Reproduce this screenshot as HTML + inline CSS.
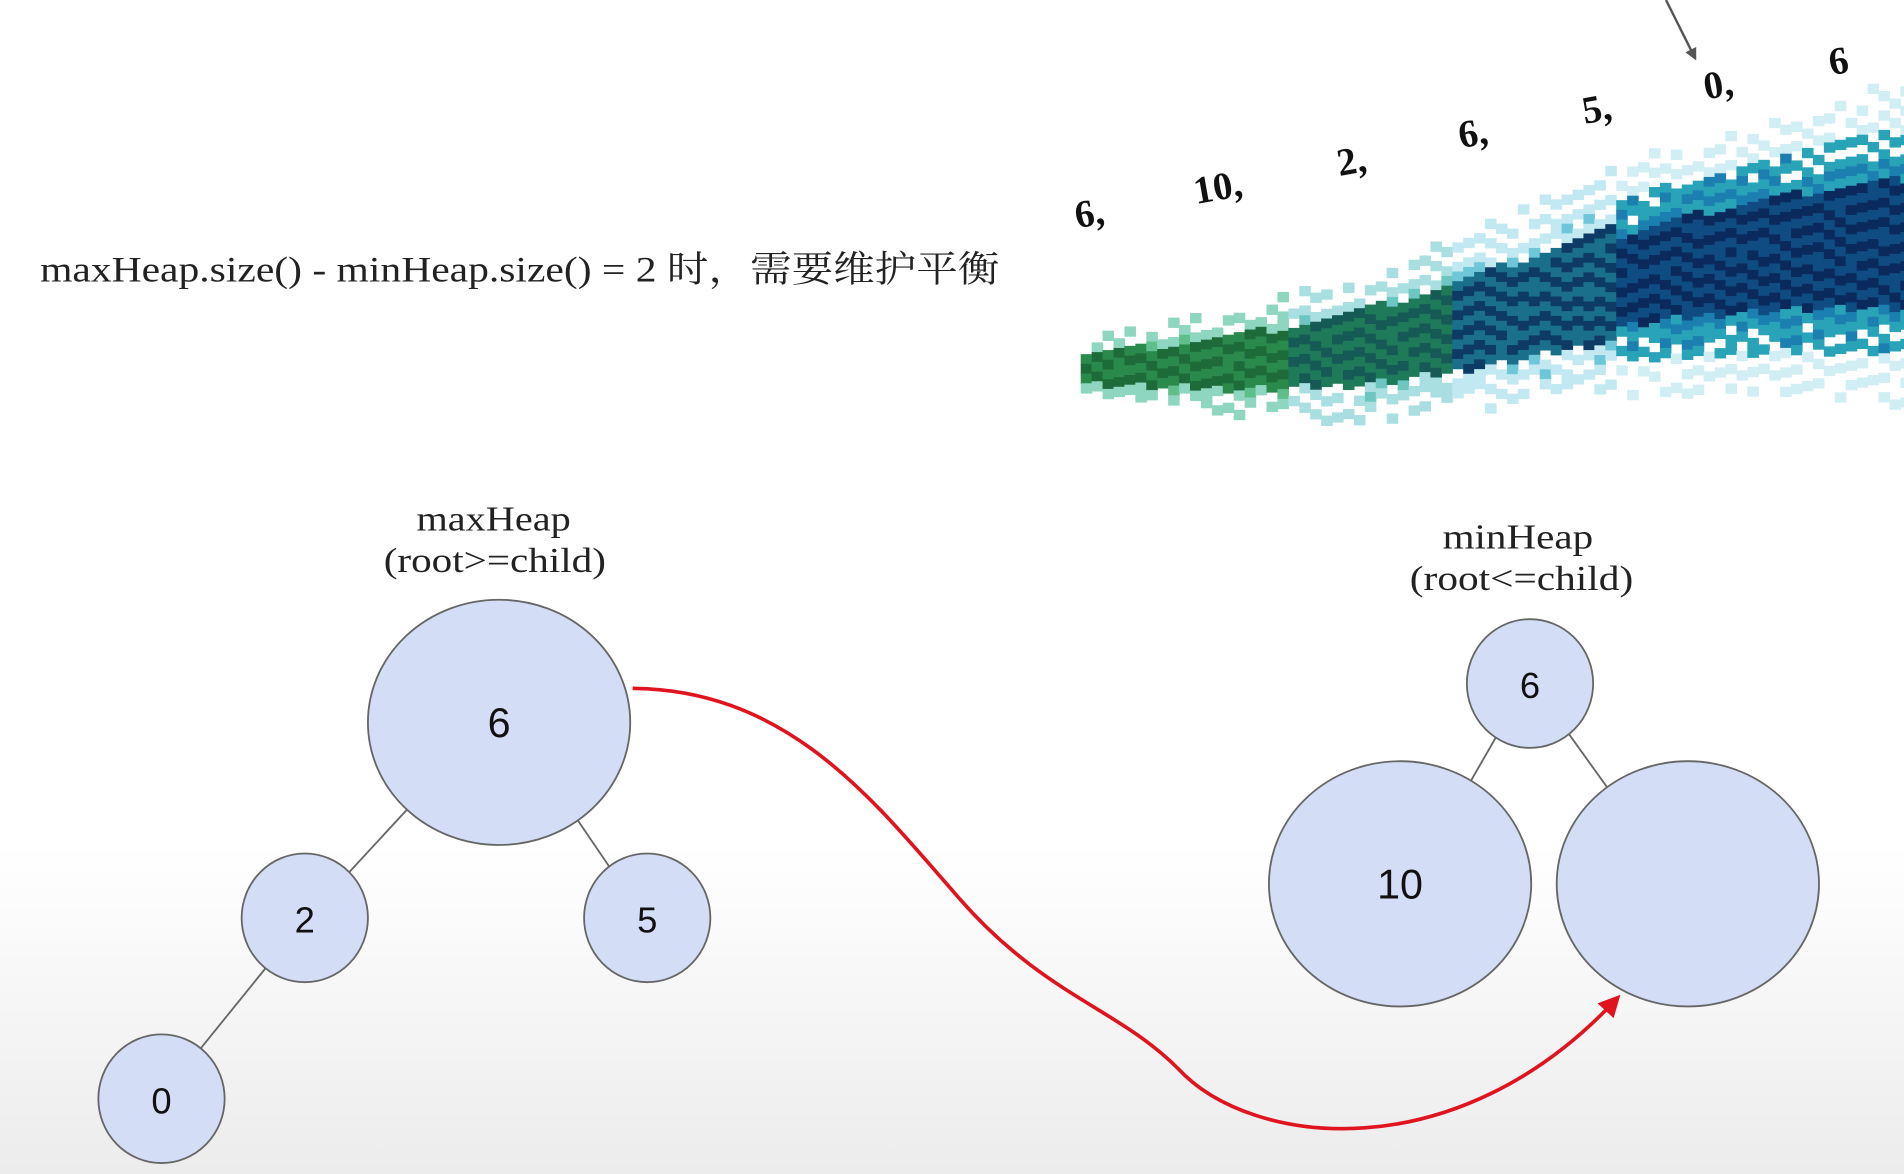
<!DOCTYPE html>
<html><head><meta charset="utf-8">
<style>
html,body{margin:0;padding:0;width:1904px;height:1174px;overflow:hidden;background:#fff;}
svg{display:block}
</style></head>
<body>
<svg id="scene" width="1904" height="1174" viewBox="0 0 1568 967" preserveAspectRatio="none" xmlns="http://www.w3.org/2000/svg">
<defs>
<linearGradient id="bg" x1="0" y1="0" x2="0" y2="1">
<stop offset="0.72" stop-color="#ffffff"/><stop offset="1" stop-color="#ececec"/>
</linearGradient>
<marker id="ah" viewBox="0 0 10 10" refX="8" refY="5" markerWidth="6" markerHeight="6" orient="auto">
<path d="M0,0 L10,5 L0,10 z" fill="#e0141e"/></marker>
<marker id="ag" viewBox="0 0 10 10" refX="8" refY="5" markerWidth="5" markerHeight="5" orient="auto">
<path d="M0,0 L10,5 L0,10 z" fill="#555"/></marker>
</defs>
<rect x="0" y="0" width="1568" height="967" fill="url(#bg)"/>
<g id="wave"></g>
<text x="33" y="232" textLength="790" lengthAdjust="spacingAndGlyphs" font-family="Liberation Serif, 'Noto Serif CJK SC', serif" font-size="30" fill="#222">maxHeap.size() - minHeap.size()  = 2 时，需要维护平衡</text>
<g id="stream"></g>
<line x1="1372" y1="0" x2="1396" y2="48" stroke="#555" stroke-width="2" marker-end="url(#ag)"/>
<g id="lines"></g>
<g id="nodes"></g>
<text x="343" y="437" textLength="127" lengthAdjust="spacingAndGlyphs" font-family="Liberation Serif, serif" font-size="29" fill="#222">maxHeap</text>
<text x="316" y="471" textLength="183" lengthAdjust="spacingAndGlyphs" font-family="Liberation Serif, serif" font-size="29" fill="#222">(root&gt;=child)</text>
<text x="1188" y="452" textLength="124" lengthAdjust="spacingAndGlyphs" font-family="Liberation Serif, serif" font-size="29" fill="#222">minHeap</text>
<text x="1161" y="486" textLength="184" lengthAdjust="spacingAndGlyphs" font-family="Liberation Serif, serif" font-size="29" fill="#222">(root&lt;=child)</text>
<path d="M521,567 C650,568 720,660 790,740 C860,820 920,830 970,880 C1030,945 1200,965 1332,822" fill="none" stroke="#e0141e" stroke-width="3" marker-end="url(#ah)"/>
</svg>
<script>
const NS="http://www.w3.org/2000/svg";
const streamValues=["6,","10,","2,","6,","5,","0,","6"];
const nodeLabels=["6","2","5","0","6","10",""];
const nodeCx=[411,251,533,133,1260,1153,1390];
const nodeCy=[595,756,756,905,563,728,728];
const nodeRx=[108,52,52,52,52,108,108];
const nodeRy=[101,53,53,53,53,101,101];
const edges=[[0,1],[0,2],[1,3],[4,5],[4,6]];
const stream=document.getElementById('stream');
const sx=[887,985,1103,1203,1305,1405,1508], sy=[188,168,145,122,102,82,62];
streamValues.forEach((v,i)=>{
  const t=document.createElementNS(NS,'text');
  
  
  t.setAttribute('x',sx[i]);t.setAttribute('y',sy[i]);
  t.setAttribute('transform','rotate(-10 '+sx[i]+' '+sy[i]+')');
  t.setAttribute('font-family','Liberation Serif, serif');t.setAttribute('font-weight','bold');
  t.setAttribute('font-size','32');t.setAttribute('fill','#111');
  t.textContent=v;stream.appendChild(t);
});
const lines=document.getElementById('lines');
edges.forEach(([a,b])=>{
  const dx=nodeCx[b]-nodeCx[a],dy=nodeCy[b]-nodeCy[a],d=Math.hypot(dx,dy);
  const l=document.createElementNS(NS,'line');
  
  
  l.setAttribute('x1',nodeCx[a]+dx/d*nodeRx[a]*0.95);l.setAttribute('y1',nodeCy[a]+dy/d*nodeRy[a]*0.95);
  l.setAttribute('x2',nodeCx[b]-dx/d*nodeRx[b]*0.95);l.setAttribute('y2',nodeCy[b]-dy/d*nodeRy[b]*0.95);
  l.setAttribute('stroke','#666');l.setAttribute('stroke-width','1.5');lines.appendChild(l);
});
const nodes=document.getElementById('nodes');
nodeLabels.forEach((v,i)=>{
  const e=document.createElementNS(NS,'ellipse');
  
  
  e.setAttribute('cx',nodeCx[i]);e.setAttribute('cy',nodeCy[i]);
  e.setAttribute('rx',nodeRx[i]);e.setAttribute('ry',nodeRy[i]);
  e.setAttribute('fill','#d3def6');e.setAttribute('stroke','#666');e.setAttribute('stroke-width','1.5');
  nodes.appendChild(e);
  const t=document.createElementNS(NS,'text');
  
  
  t.setAttribute('x',nodeCx[i]);t.setAttribute('y',nodeCy[i]+12);
  t.setAttribute('text-anchor','middle');t.setAttribute('font-family','Liberation Sans, sans-serif');
  t.setAttribute('font-size',nodeRx[i]>60?34:30);t.setAttribute('fill','#111');
  t.textContent=v;nodes.appendChild(t);
});
const wave=document.getElementById('wave');
const wavePattern=[0.3,0.7,0.1,0.9,0.5,0.2,0.8,0.4,0.6,0.05,0.95,0.35,0.65,0.15,0.85,0.45,0.55,0.25,0.75];
let k=0;
for(let x=890;x<1568;x+=9){
  const f=(x-890)/678;
  const c=302-110*(1/(1+Math.exp(-(f-0.55)*7)));
  const h=24+f*110;
  for(let y=c-h;y<c+h;y+=8){
    const r=wavePattern[k++%wavePattern.length];
    const dist=Math.abs(y-c)/h;
    if(dist>0.5 && r>1.25-dist) continue;
    let col;
    const core=1-dist;
    if(f<0.25){col=core>0.5?(r>0.5?'#1e6b3a':'#2a8a4c'):(r>0.5?'#5fbf8a':'#8fd6c0');}
    else if(f<0.45){col=core>0.5?(r>0.5?'#155a55':'#1f7a5a'):(r>0.5?'#6ec6c0':'#a9dfe0');}
    else if(f<0.65){col=core>0.5?(r>0.5?'#0d3b66':'#1a6f8a'):(r>0.5?'#6ec6d9':'#c2e9f2');}
    else{col=core>0.6?(r>0.5?'#0a2a5e':'#0f4c81'):core>0.3?(r>0.5?'#1b7fb0':'#29a3b8'):(r>0.5?'#7fd0e6':'#d2eef5');}
    const p=document.createElementNS(NS,'rect');
    
    
    p.setAttribute('x',x);p.setAttribute('y',y);p.setAttribute('width',9.5);p.setAttribute('height',8.5);
    p.setAttribute('fill',col);wave.appendChild(p);
  }
}
</script>
</body></html>
